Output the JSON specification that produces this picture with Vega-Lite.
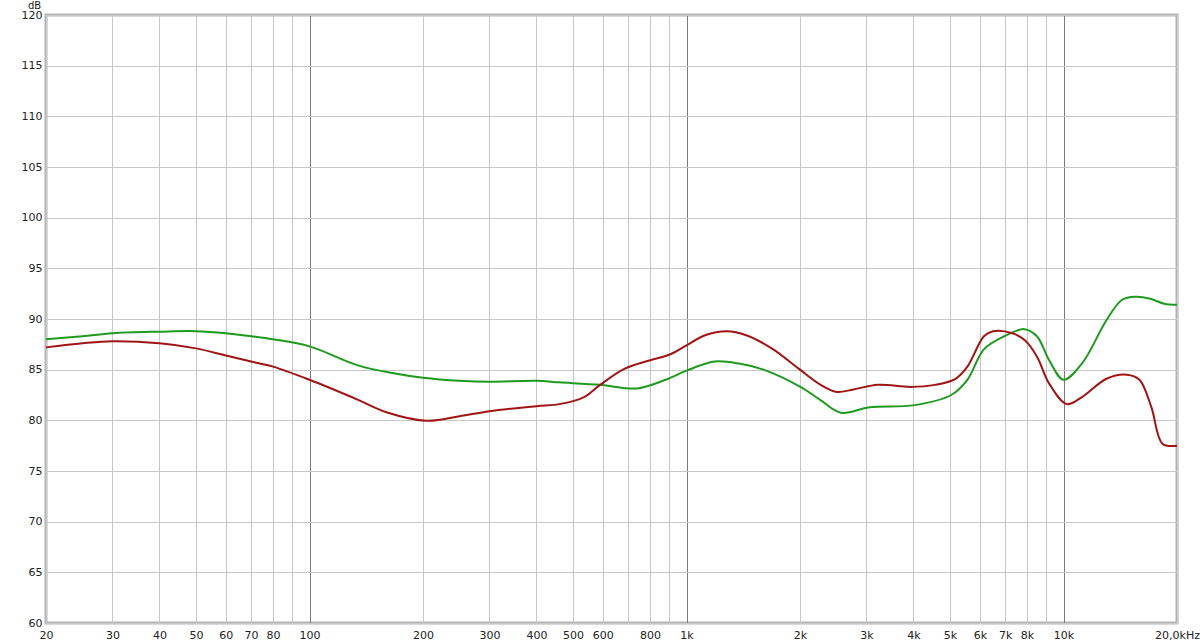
{
  "$schema": "https://vega.github.io/schema/vega-lite/v6.json",
  "width": 1131,
  "height": 608,
  "autosize": {"type": "none"},
  "padding": {"left": 46, "top": 15, "right": 23, "bottom": 21},
  "background": "white",
  "config": {
    "view": {"stroke": "#b4b4b4", "strokeWidth": 3},
    "font": "DejaVu Sans"
  },
  "datasets": {
    "green": [
      {"f": 20, "db": 88.0}, {"f": 25, "db": 88.3}, {"f": 30, "db": 88.6}, {"f": 40, "db": 88.75},
      {"f": 50, "db": 88.8}, {"f": 60, "db": 88.6}, {"f": 70, "db": 88.3}, {"f": 80, "db": 88.0},
      {"f": 100, "db": 87.3}, {"f": 135, "db": 85.4}, {"f": 170, "db": 84.6}, {"f": 200, "db": 84.2},
      {"f": 250, "db": 83.9}, {"f": 300, "db": 83.8}, {"f": 400, "db": 83.9}, {"f": 460, "db": 83.75},
      {"f": 590, "db": 83.5}, {"f": 740, "db": 83.15}, {"f": 880, "db": 84.0}, {"f": 1000, "db": 84.9},
      {"f": 1186, "db": 85.8}, {"f": 1379, "db": 85.6}, {"f": 1600, "db": 85.0}, {"f": 2005, "db": 83.3},
      {"f": 2266, "db": 82.0}, {"f": 2570, "db": 80.75}, {"f": 3056, "db": 81.3}, {"f": 4030, "db": 81.5},
      {"f": 5036, "db": 82.5}, {"f": 5560, "db": 84.0}, {"f": 6150, "db": 87.0}, {"f": 6970, "db": 88.3},
      {"f": 7880, "db": 89.0}, {"f": 8500, "db": 88.3}, {"f": 9170, "db": 85.9}, {"f": 10000, "db": 84.0},
      {"f": 11190, "db": 85.6}, {"f": 13010, "db": 89.9}, {"f": 14300, "db": 91.9}, {"f": 15500, "db": 92.2},
      {"f": 17000, "db": 92.0}, {"f": 18500, "db": 91.5}, {"f": 20000, "db": 91.4}
    ],
    "red": [
      {"f": 20, "db": 87.2}, {"f": 25, "db": 87.6}, {"f": 30, "db": 87.8}, {"f": 40, "db": 87.6},
      {"f": 50, "db": 87.1}, {"f": 60, "db": 86.4}, {"f": 70, "db": 85.8}, {"f": 80, "db": 85.3},
      {"f": 100, "db": 84.0}, {"f": 135, "db": 82.0}, {"f": 160, "db": 80.8}, {"f": 205, "db": 79.95},
      {"f": 250, "db": 80.4}, {"f": 300, "db": 80.9}, {"f": 400, "db": 81.4},
      {"f": 460, "db": 81.6}, {"f": 535, "db": 82.3}, {"f": 590, "db": 83.5}, {"f": 686, "db": 85.1},
      {"f": 797, "db": 85.9}, {"f": 903, "db": 86.5}, {"f": 1000, "db": 87.4}, {"f": 1120, "db": 88.4},
      {"f": 1280, "db": 88.8}, {"f": 1440, "db": 88.4}, {"f": 1683, "db": 87.1}, {"f": 2000, "db": 85.0},
      {"f": 2270, "db": 83.5}, {"f": 2500, "db": 82.8}, {"f": 2774, "db": 83.05}, {"f": 3220, "db": 83.5},
      {"f": 3930, "db": 83.3}, {"f": 4560, "db": 83.5}, {"f": 5170, "db": 84.1}, {"f": 5560, "db": 85.3},
      {"f": 6150, "db": 88.3}, {"f": 6500, "db": 88.8}, {"f": 7320, "db": 88.6}, {"f": 7900, "db": 87.9},
      {"f": 8500, "db": 86.3}, {"f": 9170, "db": 83.6}, {"f": 10200, "db": 81.6}, {"f": 11200, "db": 82.3},
      {"f": 13000, "db": 84.1}, {"f": 14720, "db": 84.5}, {"f": 15900, "db": 84.0}, {"f": 17100, "db": 81.3},
      {"f": 18300, "db": 77.7}, {"f": 20000, "db": 77.5}
    ]
  },
  "encoding": {
    "x": {
      "field": "f", "type": "quantitative",
      "scale": {"type": "log", "domain": [20, 20000], "nice": false},
      "axis": {
        "title": null,
        "values": [20,30,40,50,60,70,80,90,100,200,300,400,500,600,700,800,900,1000,2000,3000,4000,5000,6000,7000,8000,9000,10000,20000],
        "labelExpr": "datum.value == 90 || datum.value == 700 || datum.value == 900 || datum.value == 9000 ? '' : datum.value == 20000 ? '20,0kHz' : datum.value >= 1000 ? (datum.value/1000) + 'k' : '' + datum.value",
        "grid": true,
        "gridColor": {"condition": {"test": "datum.value == 100 || datum.value == 1000 || datum.value == 10000", "value": "#7a7a7a"}, "value": "#c8c8c8"},
        "gridWidth": 1,
        "ticks": false,
        "domain": false,
        "labelPadding": 6,
        "labelFontSize": 11,
        "labelColor": "#222",
        "labelFont": "DejaVu Sans",
        "labelBound": false,
        "labelOverlap": false,
        "labelFlush": false
      }
    },
    "y": {
      "field": "db", "type": "quantitative",
      "scale": {"domain": [60, 120], "nice": false, "zero": false},
      "axis": {
        "values": [60,65,70,75,80,85,90,95,100,105,110,115,120],
        "title": "dB",
        "titleAngle": 0,
        "titleX": -12,
        "titleY": -7,
        "titleAlign": "center",
        "titleBaseline": "alphabetic",
        "titleFontSize": 10,
        "titleFontWeight": "normal",
        "titleColor": "#222",
        "titleFont": "DejaVu Sans",
        "grid": true,
        "gridColor": "#c8c8c8",
        "ticks": false,
        "domain": false,
        "labelPadding": 4,
        "labelFontSize": 11,
        "labelColor": "#222",
        "labelFont": "DejaVu Sans"
      }
    }
  },
  "layer": [
    {
      "data": {"name": "green"},
      "mark": {"type": "line", "interpolate": "catmull-rom", "color": "#1f9a1f", "strokeWidth": 2}
    },
    {
      "data": {"name": "red"},
      "mark": {"type": "line", "interpolate": "catmull-rom", "color": "#a01414", "strokeWidth": 2}
    }
  ]
}
